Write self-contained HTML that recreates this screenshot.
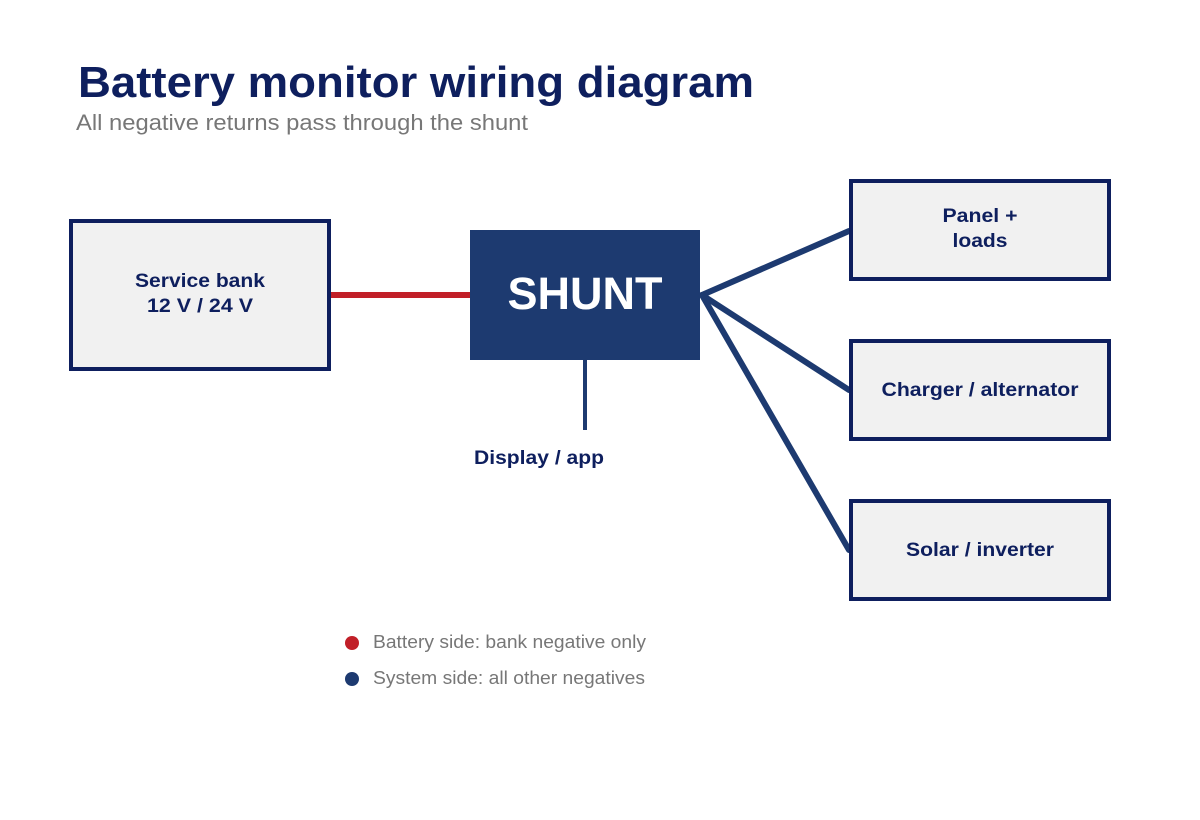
<!DOCTYPE html>
<html><head><meta charset="utf-8"><style>
html,body{margin:0;padding:0;background:#fff;}
svg{display:block;font-family:"Liberation Sans",Arial,sans-serif;}
</style></head><body>
<svg width="1200" height="820" viewBox="0 0 1200 820" xmlns="http://www.w3.org/2000/svg">
<rect width="1200" height="820" fill="#fff"/>
<text x="78" y="97" font-size="44" font-weight="bold" fill="#0e1f5e" textLength="676" lengthAdjust="spacingAndGlyphs">Battery monitor wiring diagram</text>
<text x="76" y="130" font-size="22" fill="#777" textLength="452" lengthAdjust="spacingAndGlyphs">All negative returns pass through the shunt</text>

<line x1="331" y1="295" x2="470" y2="295" stroke="#c11f28" stroke-width="6"/>
<line x1="585" y1="360" x2="585" y2="430" stroke="#1d3a70" stroke-width="4"/>
<g stroke="#1d3a70" stroke-width="6" stroke-linecap="round">
<line x1="702" y1="295" x2="849" y2="231"/>
<line x1="702" y1="295" x2="849" y2="390"/>
<line x1="702" y1="295" x2="849" y2="550"/>
</g>

<rect x="71" y="221" width="258" height="148" fill="#f1f1f1" stroke="#0e1f5e" stroke-width="4"/>
<text x="200" y="287" font-size="19" font-weight="bold" fill="#0e1f5e" text-anchor="middle" textLength="130" lengthAdjust="spacingAndGlyphs">Service bank</text>
<text x="200" y="312" font-size="19" font-weight="bold" fill="#0e1f5e" text-anchor="middle" textLength="106" lengthAdjust="spacingAndGlyphs">12 V / 24 V</text>

<rect x="470" y="230" width="230" height="130" fill="#1d3a70"/>
<text x="585" y="309" font-size="45" font-weight="bold" fill="#fff" text-anchor="middle" textLength="155" lengthAdjust="spacingAndGlyphs">SHUNT</text>

<text x="539" y="464" font-size="19" font-weight="bold" fill="#0e1f5e" text-anchor="middle" textLength="130" lengthAdjust="spacingAndGlyphs">Display / app</text>

<rect x="851" y="181" width="258" height="98" fill="#f1f1f1" stroke="#0e1f5e" stroke-width="4"/>
<text x="980" y="222" font-size="19" font-weight="bold" fill="#0e1f5e" text-anchor="middle" textLength="75" lengthAdjust="spacingAndGlyphs">Panel +</text>
<text x="980" y="247" font-size="19" font-weight="bold" fill="#0e1f5e" text-anchor="middle" textLength="55" lengthAdjust="spacingAndGlyphs">loads</text>

<rect x="851" y="341" width="258" height="98" fill="#f1f1f1" stroke="#0e1f5e" stroke-width="4"/>
<text x="980" y="396" font-size="19" font-weight="bold" fill="#0e1f5e" text-anchor="middle" textLength="197" lengthAdjust="spacingAndGlyphs">Charger / alternator</text>

<rect x="851" y="501" width="258" height="98" fill="#f1f1f1" stroke="#0e1f5e" stroke-width="4"/>
<text x="980" y="556" font-size="19" font-weight="bold" fill="#0e1f5e" text-anchor="middle" textLength="148" lengthAdjust="spacingAndGlyphs">Solar / inverter</text>

<circle cx="352" cy="643" r="7" fill="#c11f28"/>
<text x="373" y="648" font-size="18" fill="#777" textLength="273" lengthAdjust="spacingAndGlyphs">Battery side: bank negative only</text>
<circle cx="352" cy="679" r="7" fill="#1d3a70"/>
<text x="373" y="684" font-size="18" fill="#777" textLength="272" lengthAdjust="spacingAndGlyphs">System side: all other negatives</text>
</svg>
</body></html>
